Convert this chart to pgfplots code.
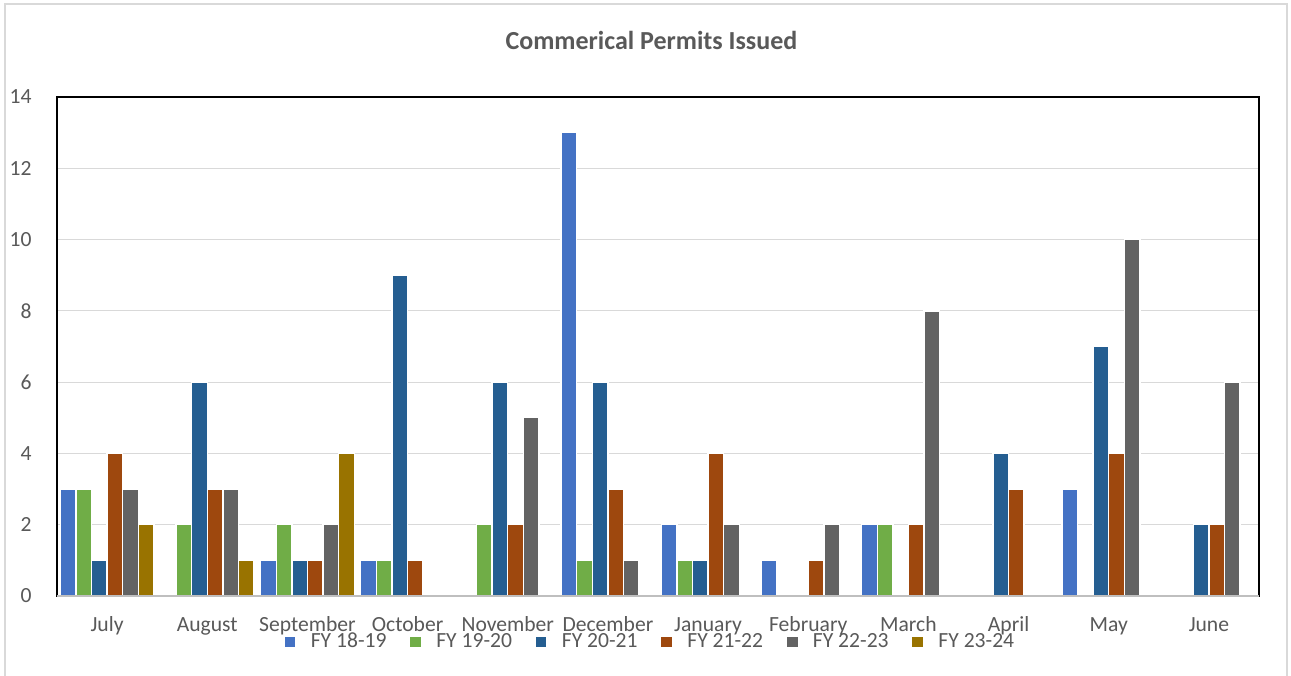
\documentclass[border=0pt]{standalone}
\usepackage{pgfplots}
\pgfplotsset{compat=1.18}
\usepackage{fontspec}
\setmainfont{Carlito}
\definecolor{c1}{HTML}{4472C4}
\definecolor{c2}{HTML}{70AD47}
\definecolor{c3}{HTML}{255E91}
\definecolor{c4}{HTML}{9E480E}
\definecolor{c5}{HTML}{636363}
\definecolor{c6}{HTML}{997300}
\definecolor{txt}{HTML}{595959}
\definecolor{gridc}{HTML}{D9D9D9}
\definecolor{axc}{HTML}{BFBFBF}
\begin{document}
\begin{tikzpicture}
\useasboundingbox (0,0) rectangle (645.5pt,337.5pt);
\fill[white] (0,0) rectangle (645.5pt,337.5pt);
\draw[gridc, line width=0.6pt] (2.5pt,-1pt) -- (2.5pt,335.5pt) -- (643.5pt,335.5pt) -- (643.5pt,-1pt);
\node[font=\fontsize{13}{15}\selectfont\bfseries, text=txt] at (325.75pt,317.5pt) {Commerical Permits Issued};
\begin{axis}[
  at={(28.5pt,39.5pt)}, anchor=south west,
  scale only axis, width=601pt, height=249.5pt,
  clip=false,
  xmin=-0.5, xmax=11.5, ymin=0, ymax=14,
  ytick={0,2,...,14},
  xtick={0,...,11},
  xticklabels={July,August,September,October,November,December,January,February,March,April,May,June},
  major tick length=0pt,
  ymajorgrids, major grid style={gridc, line width=0.6pt},
  axis line style={black, line width=1pt},
  /pgf/number format/assume math mode=true,
  tick label style={font=\fontsize{10.8}{13}\selectfont, text=txt},
  yticklabel style={anchor=east, inner sep=0pt, xshift=-12.5pt},
  xticklabel style={anchor=base, inner sep=0pt, yshift=-17.5pt},
  ybar=0pt, bar width=7.8pt,
  every axis plot/.append style={draw=white, line width=0.7pt},
  legend columns=6,
  legend style={at={(0.1880,-0.0922)}, anchor=west, draw=none, fill=none, inner sep=0pt,
    font=\fontsize{10.8}{13}\selectfont, text=txt,
    nodes={inner sep=0pt},
    /tikz/every odd column/.append style={column sep=7pt},
    /tikz/every even column/.append style={column sep=11.2pt}},
  legend image code/.code={\fill[#1] (0pt,-3pt) rectangle (6pt,3pt);},
]
\addplot[fill=c1] coordinates {(0,3) (1,0) (2,1) (3,1) (4,0) (5,13) (6,2) (7,1) (8,2) (9,0) (10,3) (11,0)};
\addplot[fill=c2] coordinates {(0,3) (1,2) (2,2) (3,1) (4,2) (5,1) (6,1) (7,0) (8,2) (9,0) (10,0) (11,0)};
\addplot[fill=c3] coordinates {(0,1) (1,6) (2,1) (3,9) (4,6) (5,6) (6,1) (7,0) (8,0) (9,4) (10,7) (11,2)};
\addplot[fill=c4] coordinates {(0,4) (1,3) (2,1) (3,1) (4,2) (5,3) (6,4) (7,1) (8,2) (9,3) (10,4) (11,2)};
\addplot[fill=c5] coordinates {(0,3) (1,3) (2,2) (3,0) (4,5) (5,1) (6,2) (7,2) (8,8) (9,0) (10,10) (11,6)};
\addplot[fill=c6] coordinates {(0,2) (1,1) (2,4) (3,0) (4,0) (5,0) (6,0) (7,0) (8,0) (9,0) (10,0) (11,0)};
\legend{FY 18-19,FY 19-20,FY 20-21,FY 21-22,FY 22-23,FY 23-24}
\draw[axc, line width=1.2pt] (axis cs:-0.5,0) -- (axis cs:11.5,0);
\end{axis}
\end{tikzpicture}
\end{document}
